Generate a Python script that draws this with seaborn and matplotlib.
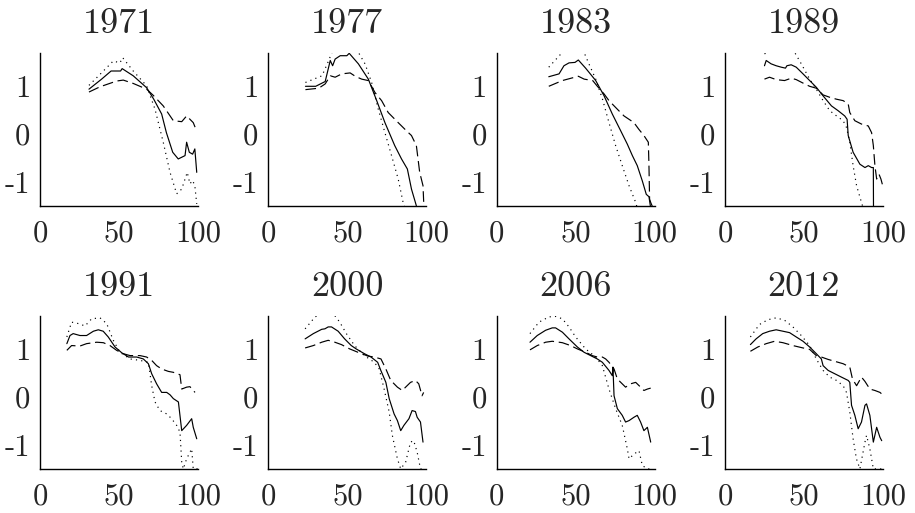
import numpy as np
import pandas as pd
import matplotlib
matplotlib.use("Agg")
import matplotlib.pyplot as plt
import seaborn as sns

# years shown in the 2x4 grid
years = [1971, 1977, 1983, 1989, 1991, 2000, 2006, 2012]

# solid series: year -> (x, y)
solid = {
    1971: ([31, 39, 45, 51, 52, 59, 67.5, 72, 77, 80, 84, 87.5, 91.8, 92.8, 94.5, 96.6, 98, 99.2],
           [0.94, 1.15, 1.32, 1.32, 1.37, 1.22, 0.97, 0.73, 0.42, 0.03, -0.38, -0.52, -0.45, -0.17, -0.38, -0.42, -0.31, -0.8]),
    1977: ([23.5, 30, 36, 39.2, 40.7, 42.3, 45.5, 49.7, 51.2, 57, 63.3, 68.6, 73.8, 80, 84.3, 88, 90.6, 93.7],
           [1.0, 1.0, 1.1, 1.54, 1.43, 1.57, 1.64, 1.64, 1.69, 1.47, 1.15, 0.7, 0.24, -0.24, -0.52, -0.73, -1.15, -1.5]),
    1983: ([33, 39.5, 42.6, 45.8, 49.6, 51.7, 56.3, 62.7, 68, 73.2, 78.5, 82.7, 85.9, 89, 92.2, 94.7, 96.4, 97.5],
           [1.2, 1.26, 1.43, 1.49, 1.5, 1.55, 1.38, 1.12, 0.8, 0.42, 0.07, -0.21, -0.45, -0.66, -0.98, -1.26, -1.31, -1.55]),
    1989: ([25, 26.1, 29.2, 32.4, 35.6, 38.3, 39.2, 41.9, 45.1, 49.4, 53.6, 57.8, 62.1, 67.4, 71.6, 75.8, 77.3, 78, 81.1, 85.4, 88.6, 90.7, 92.8, 93.9, 94],
           [1.43, 1.54, 1.47, 1.43, 1.4, 1.38, 1.43, 1.45, 1.4, 1.26, 1.12, 0.98, 0.8, 0.59, 0.49, 0.38, 0.31, -0.03, -0.38, -0.63, -0.7, -0.66, -0.7, -0.7, -1.55]),
    1991: ([17, 19, 21, 25.3, 29.5, 33.8, 36.9, 40, 43.2, 47.5, 51.7, 56, 61.2, 65.4, 68.6, 70.7, 73.8, 77, 80.2, 82.3, 84.4, 87.6, 89.7, 92.8, 96, 97, 99.2],
           [1.12, 1.29, 1.33, 1.29, 1.29, 1.38, 1.41, 1.38, 1.26, 1.05, 0.93, 0.84, 0.84, 0.8, 0.7, 0.49, 0.28, 0.1, 0.1, 0.05, -0.03, -0.1, -0.7, -0.59, -0.45, -0.63, -0.87]),
    2000: ([23.3, 28.5, 33.8, 35.8, 37.9, 40, 44.2, 48.3, 52.5, 55.6, 60.8, 65, 69.2, 71.2, 74.4, 76.5, 79.6, 81.7, 83.8, 85.8, 89, 91, 93.1, 94.2, 96.3, 97.9],
           [1.22, 1.33, 1.42, 1.43, 1.47, 1.47, 1.38, 1.22, 1.08, 1.01, 0.91, 0.84, 0.73, 0.56, 0.31, -0.03, -0.35, -0.49, -0.7, -0.59, -0.45, -0.28, -0.3, -0.42, -0.52, -0.94]),
    2006: ([21.1, 25.7, 31, 35.2, 37.3, 41.6, 45.8, 51.1, 55.3, 59.5, 63.7, 66.9, 71.1, 73.2, 73.6, 74.3, 76.4, 79.5, 81.6, 83.8, 86.9, 89, 91.1, 93.2, 95.4, 97.5],
           [1.15, 1.29, 1.4, 1.45, 1.45, 1.36, 1.22, 1.05, 0.94, 0.87, 0.8, 0.73, 0.56, 0.45, 0.63, 0.03, -0.24, -0.38, -0.52, -0.49, -0.42, -0.38, -0.52, -0.7, -0.63, -0.94]),
    2012: ([16.1, 19.7, 23.9, 28.2, 32.4, 36.7, 40.9, 45.1, 49.4, 53.6, 57.8, 61, 62.1, 65.3, 69.5, 73.7, 78, 79, 80.1, 82.2, 84.3, 86.4, 88.6, 89.6, 91.7, 93.9, 96, 98.1, 99.2],
           [1.1, 1.22, 1.33, 1.38, 1.41, 1.38, 1.35, 1.26, 1.17, 1.05, 0.91, 0.8, 0.66, 0.56, 0.49, 0.42, 0.35, 0.31, -0.17, -0.38, -0.66, -0.52, -0.17, -0.14, -0.38, -0.94, -0.63, -0.84, -0.91]),
}

# dashed series: year -> (x, y)
dashed = {
    1971: ([31, 38, 48.5, 52.7, 59, 67.5, 71.7, 78, 84.4, 89.7, 92.8, 94.9, 97, 98.7],
           [0.88, 0.99, 1.11, 1.13, 1.06, 0.94, 0.81, 0.59, 0.28, 0.26, 0.38, 0.31, 0.24, 0.1]),
    1977: ([23.5, 31.9, 36, 39.2, 42.3, 46.5, 51.8, 55, 59.1, 63.3, 67.5, 71.7, 75.9, 82.2, 87.4, 90.6, 93.7, 95.8, 97.9, 98.5],
           [0.93, 0.96, 1.05, 1.22, 1.19, 1.26, 1.28, 1.21, 1.15, 1.12, 0.87, 0.7, 0.45, 0.24, 0.07, -0.03, -0.24, -0.8, -1.08, -1.55]),
    1983: ([33, 41.6, 51.7, 55.4, 60.8, 63.5, 68, 71.1, 76.4, 80.6, 86.9, 90, 93.2, 96, 96.4, 96.8, 97.5, 99],
           [1.0, 1.12, 1.21, 1.15, 1.12, 1.01, 0.84, 0.7, 0.52, 0.38, 0.24, 0.1, -0.03, -0.17, -0.66, -1.36, -1.43, -1.55]),
    1989: ([25, 28.2, 32.4, 37.7, 42, 45.1, 50.4, 53.6, 57.8, 62.1, 66.3, 70.6, 74.8, 78, 79, 82.2, 86.4, 90.7, 92.8, 93.9, 94.9, 96, 97.5, 98.7, 99.6],
           [1.15, 1.19, 1.14, 1.12, 1.17, 1.14, 1.05, 1.0, 0.96, 0.82, 0.77, 0.73, 0.7, 0.63, 0.45, 0.28, 0.21, 0.17, 0.03, -0.24, -0.66, -0.94, -0.84, -0.94, -1.05]),
    1991: ([17, 20, 25.3, 29.5, 35.9, 40.1, 44.3, 48.5, 52.7, 57, 63.3, 67.5, 70.7, 73.8, 77, 81.2, 84.4, 88.6, 89.7, 92.8, 94.9, 98.1],
           [0.98, 1.08, 1.07, 1.12, 1.15, 1.14, 1.08, 0.98, 0.91, 0.87, 0.87, 0.84, 0.77, 0.66, 0.59, 0.54, 0.52, 0.47, 0.17, 0.21, 0.22, 0.1]),
    2000: ([23.3, 28.5, 33.8, 37.9, 42.1, 46.3, 51.5, 56.7, 63, 67.1, 71.3, 74.4, 77.5, 81.7, 84.8, 86.9, 90, 93.1, 95.2, 97.3, 98.3],
           [1.03, 1.08, 1.15, 1.19, 1.15, 1.1, 1.01, 0.94, 0.86, 0.84, 0.8, 0.59, 0.35, 0.21, 0.14, 0.21, 0.31, 0.35, 0.28, 0.03, 0.1]),
    2006: ([21.1, 25.7, 31, 35.2, 41.6, 46.8, 51.1, 56.3, 60.5, 63.7, 66.9, 69, 71.1, 74.3, 76.4, 81.6, 84.8, 88, 91.1, 93.2, 95.4, 97.5],
           [0.99, 1.08, 1.15, 1.17, 1.14, 1.08, 1.01, 0.94, 0.87, 0.84, 0.84, 0.8, 0.73, 0.59, 0.38, 0.21, 0.28, 0.31, 0.21, 0.14, 0.17, 0.19]),
    2012: ([16.1, 20.8, 26.1, 31.4, 36.7, 43, 49.4, 53.6, 57.8, 61, 65.3, 69.5, 74.8, 79, 80.7, 83.3, 86.4, 88.6, 91.7, 94.9, 98.1, 99.8],
           [0.96, 1.05, 1.12, 1.17, 1.14, 1.08, 1.03, 1.0, 0.87, 0.84, 0.79, 0.75, 0.7, 0.63, 0.38, 0.24, 0.42, 0.33, 0.17, 0.14, 0.1, 0.05]),
}

# dotted series: year -> (x, y)
dotted = {
    1971: ([31, 38, 46.4, 50.6, 52.3, 59, 67.5, 72.8, 78, 82.3, 86.5, 89.7, 91.8, 93.2, 94.9, 96.6, 98, 99.2],
           [1.02, 1.25, 1.53, 1.49, 1.6, 1.32, 1.01, 0.52, -0.17, -0.8, -1.25, -1.15, -0.94, -0.8, -1.04, -0.97, -1.08, -1.46]),
    1977: ([23.5, 34, 37.7, 40.3, 47, 57, 61.2, 65.4, 69.6, 73.8, 78, 82.2, 85.3, 86.5],
           [1.08, 1.22, 1.5, 1.71, 1.85, 1.71, 1.47, 1.08, 0.52, 0.03, -0.45, -0.94, -1.43, -1.55]),
    1983: ([33, 41.6, 48, 55.3, 58.4, 62.7, 67, 71.1, 75.3, 79.5, 83.8, 88, 89],
           [1.4, 1.71, 1.85, 1.71, 1.47, 1.15, 0.73, 0.24, -0.24, -0.66, -1.08, -1.43, -1.55]),
    1989: ([25, 29.2, 36, 44.1, 48.3, 53.6, 57.8, 62.1, 66.3, 70.6, 74.8, 76.9, 79, 81.1, 83.3, 86.4, 87.5],
           [1.68, 1.73, 1.75, 1.71, 1.47, 1.15, 0.94, 0.7, 0.49, 0.38, 0.28, 0.14, -0.17, -0.66, -1.08, -1.43, -1.55]),
    1991: ([17, 20, 24.3, 28.5, 32.7, 38, 42.2, 46.4, 50.6, 57, 63.3, 68.6, 70.7, 72.8, 75.9, 80.2, 83.3, 86.5, 88.6, 89.7, 90.7, 92.8, 96, 97, 100],
           [1.26, 1.57, 1.54, 1.49, 1.64, 1.66, 1.54, 1.19, 0.94, 0.8, 0.77, 0.73, 0.24, -0.1, -0.28, -0.35, -0.45, -0.59, -0.73, -1.36, -1.5, -1.29, -1.08, -1.5, -1.5]),
    2000: ([23.3, 29.6, 36, 42, 45.2, 49.4, 54.6, 60.8, 67.1, 70.2, 73.3, 76.5, 78.5, 81.7, 83.8, 86.9, 90, 92, 94.2, 96.3, 99],
           [1.43, 1.68, 1.78, 1.71, 1.57, 1.33, 1.08, 0.87, 0.73, 0.59, 0.17, -0.31, -0.8, -1.29, -1.5, -1.36, -0.94, -0.91, -1.15, -1.5, -1.5]),
    2006: ([21.1, 26.8, 33.1, 37.3, 41.6, 45.8, 50, 56.3, 62.7, 66.9, 71.1, 75.3, 79.5, 82.7, 83.8, 86.9, 90.1, 92.2, 95.4, 99],
           [1.33, 1.57, 1.68, 1.69, 1.64, 1.47, 1.26, 1.01, 0.84, 0.66, 0.17, -0.24, -0.59, -1.08, -1.29, -1.19, -1.12, -1.43, -1.5, -1.5]),
    2012: ([16.1, 21.8, 27.1, 32.4, 37.7, 43, 48.3, 53.6, 57.8, 62.1, 66.3, 70.6, 74.8, 76.9, 79, 81.1, 83.2, 85.4, 88.6, 89.6, 91.7, 93.9, 99],
           [1.26, 1.52, 1.62, 1.66, 1.61, 1.47, 1.29, 1.08, 0.8, 0.56, 0.42, 0.35, 0.24, 0.1, -0.31, -0.87, -1.29, -1.5, -0.94, -0.8, -1.08, -1.5, -1.5]),
}

x_ticks = [0, 50, 100]
x_tick_labels = ["0", "50", "100"]
y_ticks = [-1, 0, 1]
y_tick_labels = ["-1", "0", "1"]

sns.set_style("white")
plt.rcParams["font.family"] = ["cmr10", "DejaVu Serif"]
plt.rcParams["axes.formatter.use_mathtext"] = True

fig, axes = plt.subplots(2, 4, figsize=(9.15, 5.13), dpi=100)
fig.subplots_adjust(left=0.0437, right=0.965, bottom=0.086, top=0.897,
                    wspace=0.445, hspace=0.72)

styles = [(solid, "-"), (dashed, (0, (9, 4))), (dotted, (0, (1, 3.5)))]

for ax, year in zip(axes.flat, years):
    for series, ls in styles:
        xs, ys = series[year]
        df = pd.DataFrame({"x": xs, "y": ys})
        sns.lineplot(data=df, x="x", y="y", ax=ax, sort=False, estimator=None,
                     color="black", linewidth=0.85, linestyle=ls)
    ax.set_xlim(0, 100)
    ax.set_ylim(-1.5, 1.7)
    ax.set_xticks(x_ticks)
    ax.set_xticklabels(x_tick_labels)
    ax.set_yticks(y_ticks)
    ax.set_yticklabels(y_tick_labels)
    ax.set_xlabel("")
    ax.set_ylabel("")
    ax.tick_params(direction="in", length=2, width=0.8, labelsize=22)
    ax.tick_params(axis="x", pad=10)
    ax.tick_params(axis="y", pad=7)
    sns.despine(ax=ax)
    for side in ["left", "bottom"]:
        ax.spines[side].set_color("black")
        ax.spines[side].set_linewidth(1.0)
    ax.set_title(str(year), fontsize=26, pad=14)

fig.savefig("out.png", dpi=100)
